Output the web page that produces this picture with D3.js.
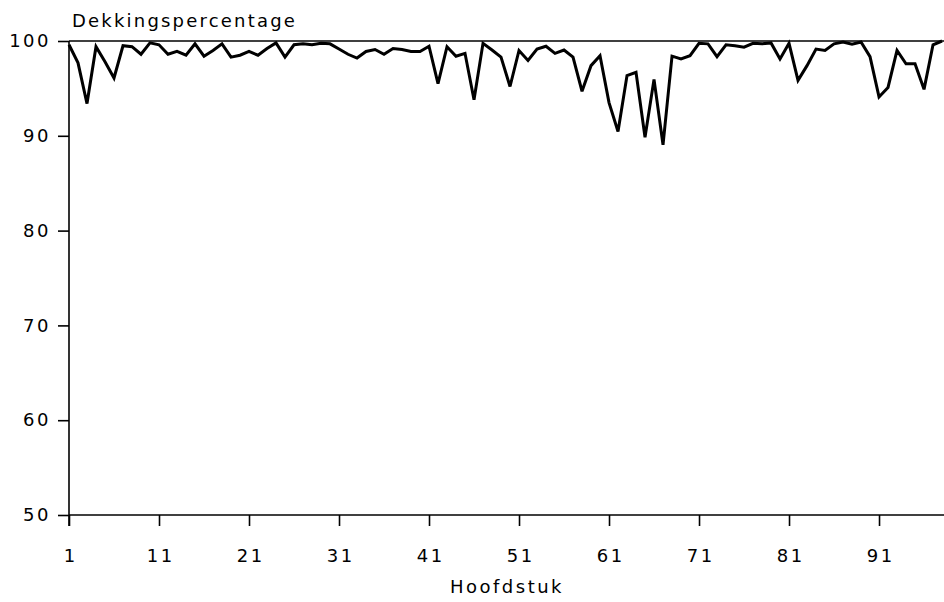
<!DOCTYPE html>
<html>
<head>
<meta charset="utf-8">
<script src="https://cdn.jsdelivr.net/npm/d3@7"></script>
<style>
  html, body { margin: 0; padding: 0; background: #fff; }
  svg { display: block; }
  text { font-family: "DejaVu Sans", sans-serif; fill: #000; }
</style>
</head>
<body>
<svg id="chart" width="944" height="602"></svg>
<script>
// Chapters (Hoofdstuk) 1..98
const chapters = d3.range(1, 99);
// Coverage percentage per chapter (Dekkingspercentage)
const coverage = [
  99.6, 97.7, 93.4, 99.4, 97.8, 96.1, 99.5, 99.4, 98.6, 99.8,
  99.6, 98.6, 98.9, 98.5, 99.7, 98.4, 99.0, 99.7, 98.3, 98.5,
  98.9, 98.5, 99.2, 99.8, 98.3, 99.6, 99.7, 99.6, 99.75, 99.7,
  99.15, 98.6, 98.2, 98.9, 99.1, 98.6, 99.2, 99.1, 98.9, 98.9,
  99.45, 95.5, 99.4, 98.4, 98.7, 93.8, 99.75, 99.05, 98.3, 95.2,
  99.0, 97.95, 99.15, 99.45, 98.7, 99.05, 98.3, 94.7, 97.4, 98.45,
  93.5, 90.45, 96.35, 96.7, 89.85, 95.95, 89.05, 98.4, 98.1, 98.45,
  99.75, 99.7, 98.35, 99.6, 99.5, 99.35, 99.75, 99.7, 99.8, 98.1,
  99.75, 95.85, 97.4, 99.15, 99.0, 99.7, 99.9, 99.65, 99.9, 98.35,
  94.1, 95.1, 99.0, 97.6, 97.6, 94.9, 99.6, 100
];
const xTicks = [1, 11, 21, 31, 41, 51, 61, 71, 81, 91];
const yTicks = [50, 60, 70, 80, 90, 100];
const yTitle = "Dekkingspercentage";
const xTitle = "Hoofdstuk";

const svg = d3.select("#chart");
const x = d3.scaleLinear().domain([1, 98.22]).range([69, 944]);
const y = d3.scaleLinear().domain([50, 100]).range([515, 41]);

const fontSize = 18;
const spacing = 2.5;

// X axis
const gx = svg.append("g").attr("transform", `translate(0,${y(50)})`)
  .call(d3.axisBottom(x).tickValues(xTicks).tickSize(11).tickPadding(23).tickSizeOuter(0).tickFormat(d3.format("d")));
gx.select(".domain").remove();
gx.selectAll(".tick text").attr("dx", spacing / 2);
svg.append("line").attr("x1", x(1)).attr("x2", 944).attr("y1", y(50)).attr("y2", y(50))
  .attr("stroke", "#000").attr("stroke-width", 1.6);

// Y axis
const gy = svg.append("g").attr("transform", `translate(${x(1)},0)`)
  .call(d3.axisLeft(y).tickValues(yTicks).tickSize(11).tickPadding(7).tickSizeOuter(0).tickFormat(d3.format("d")));
gy.select(".domain").remove();
svg.append("line").attr("x1", x(1)).attr("x2", x(1)).attr("y1", y(100)).attr("y2", y(50) + 11)
  .attr("stroke", "#000").attr("stroke-width", 1.6);

// Top reference line at 100
svg.append("line").attr("x1", x(1)).attr("x2", 944).attr("y1", y(100)).attr("y2", y(100))
  .attr("stroke", "#000").attr("stroke-width", 1.6);

[gx, gy].forEach(g => {
  g.selectAll(".tick line").attr("stroke", "#000").attr("stroke-width", 1.6);
  g.selectAll(".tick text").attr("font-size", fontSize).attr("font-family", "DejaVu Sans, sans-serif")
    .style("letter-spacing", spacing + "px").attr("fill", "#000");
});

// Titles
svg.append("text").attr("x", 72).attr("y", 27).attr("font-size", 18)
  .style("letter-spacing", "2.2px").text(yTitle);
svg.append("text").attr("x", 507).attr("y", 593).attr("text-anchor", "middle").attr("font-size", 18)
  .style("letter-spacing", "2.5px").text(xTitle);

// Line
const line = d3.line().x((d, i) => x(chapters[i])).y(d => y(d));
svg.append("path").datum(coverage).attr("d", line)
  .attr("fill", "none").attr("stroke", "#000").attr("stroke-width", 3)
  .attr("stroke-linejoin", "miter").attr("stroke-miterlimit", 3);
</script>
</body>
</html>
